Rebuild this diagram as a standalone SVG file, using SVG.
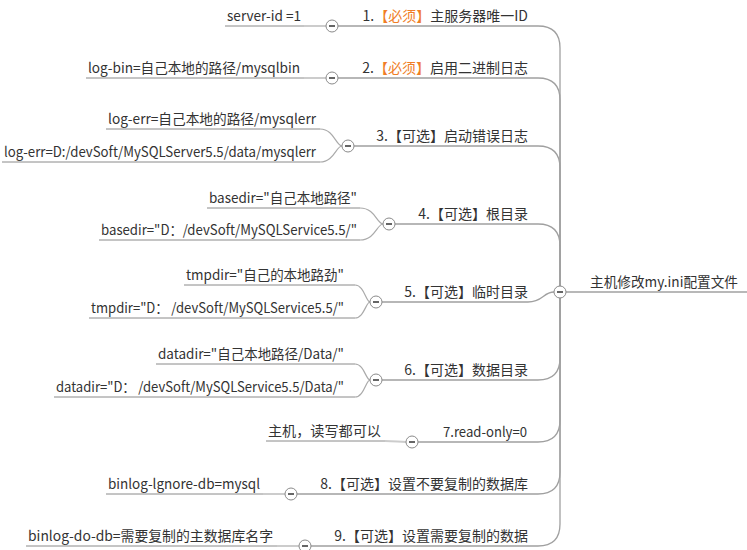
<svg xmlns="http://www.w3.org/2000/svg" width="747" height="550" viewBox="0 0 747 550">
<style>
text{font-family:"Noto Sans CJK SC","Noto Sans",sans-serif;font-size:14px;fill:#333}
.r{text-anchor:end}
.o{fill:#f07d26}
.br{fill:none;stroke:#a0a0a0;stroke-width:1.3}
.ul{fill:none;stroke:#8a8a8a;stroke-width:1}
.cn{fill:none;stroke:#cccccc;stroke-width:2}
.cv{fill:none;stroke:#aaaaaa;stroke-width:1.2}
.tg circle{fill:#fff;stroke:#8a8a8a;stroke-width:1}
.tg path{stroke:#333;stroke-width:1.5}
</style>
<rect width="747" height="550" fill="#fff"/>
<g id="connectors">
<path class="br" d="M560,292 V48 Q560,26 538,26 H338"/>
<path class="br" d="M560,292 V100 Q560,78 538,78 H338"/>
<path class="br" d="M560,292 V168 Q560,146 538,146 H354"/>
<path class="br" d="M560,292 V246 Q560,224 538,224 H395"/>
<path class="br" d="M554,292 C543,292 543,302 528,302 H382"/>
<path class="br" d="M560,292 V358 Q560,380 538,380 H382"/>
<path class="br" d="M560,292 V420 Q560,442 538,442 H418"/>
<path class="br" d="M560,292 V472 Q560,494 538,494 H297"/>
<path class="br" d="M560,292 V524 Q560,546 538,546 H311"/>
<path class="br" d="M566,292 H747"/>
<path class="cn" d="M304,26 H326"/>
<path class="cn" d="M304,78 H326"/>
<path class="cv" d="M320,129 C334,129 336,146 342,146"/>
<path class="cv" d="M320,162 C334,162 336,146 342,146"/>
<path class="cv" d="M360,208 C375,208 377,224 383,224"/>
<path class="cv" d="M360,240 C375,240 377,224 383,224"/>
<path class="cv" d="M355,285 C364,285 366,302 370,302"/>
<path class="cv" d="M355,318 C364,318 366,302 370,302"/>
<path class="cv" d="M355,364 C364,364 366,380 370,380"/>
<path class="cv" d="M355,397 C364,397 366,380 370,380"/>
<path class="cn" d="M385,441 C396,441 398,442 406,442"/>
<path class="cn" d="M263,494 H285"/>
<path class="cn" d="M277,546 H299"/>
</g>
<g id="root">
<text x="590" y="287" textLength="148" lengthAdjust="spacingAndGlyphs">主机修改my.ini配置文件</text>
<g class="tg"><circle cx="560" cy="292" r="6"/><path d="M557,292 H563"/></g>
</g>
<g id="b1">
<text class="r" x="528" y="21">1.<tspan class="o">【必须】</tspan>主服务器唯一ID</text>
<g class="tg"><circle cx="332" cy="26" r="6"/><path d="M329,26 H335"/></g>
</g>
<g id="b1c1"><text x="227" y="21" textLength="74" lengthAdjust="spacingAndGlyphs">server-id =1</text><path class="ul" d="M225,26 H304"/></g>
<g id="b2">
<text class="r" x="528" y="73">2.<tspan class="o">【必须】</tspan>启用二进制日志</text>
<g class="tg"><circle cx="332" cy="78" r="6"/><path d="M329,78 H335"/></g>
</g>
<g id="b2c1"><text x="88" y="73" textLength="212" lengthAdjust="spacingAndGlyphs">log-bin=自己本地的路径/mysqlbin</text><path class="ul" d="M86,78 H304"/></g>
<g id="b3">
<text class="r" x="528" y="141">3.【可选】启动错误日志</text>
<g class="tg"><circle cx="348" cy="146" r="6"/><path d="M345,146 H351"/></g>
</g>
<g id="b3c1"><text x="108" y="124" textLength="208" lengthAdjust="spacingAndGlyphs">log-err=自己本地的路径/mysqlerr</text><path class="ul" d="M106,129 H320"/></g>
<g id="b3c2"><text x="4" y="157" textLength="312" lengthAdjust="spacingAndGlyphs">log-err=D:/devSoft/MySQLServer5.5/data/mysqlerr</text><path class="ul" d="M2,162 H320"/></g>
<g id="b4">
<text class="r" x="528" y="219">4.【可选】根目录</text>
<g class="tg"><circle cx="389" cy="224" r="6"/><path d="M386,224 H392"/></g>
</g>
<g id="b4c1"><text x="209" y="203" textLength="148" lengthAdjust="spacingAndGlyphs">basedir="自己本地路径"</text><path class="ul" d="M207,208 H360"/></g>
<g id="b4c2"><text x="101" y="235" textLength="256" lengthAdjust="spacingAndGlyphs">basedir="D：/devSoft/MySQLService5.5/"</text><path class="ul" d="M99,240 H360"/></g>
<g id="b5">
<text class="r" x="528" y="297">5.【可选】临时目录</text>
<g class="tg"><circle cx="376" cy="302" r="6"/><path d="M373,302 H379"/></g>
</g>
<g id="b5c1"><text x="186" y="280" textLength="158" lengthAdjust="spacingAndGlyphs">tmpdir="自己的本地路劲"</text><path class="ul" d="M184,285 H355"/></g>
<g id="b5c2"><text x="91" y="313" textLength="253" lengthAdjust="spacingAndGlyphs">tmpdir="D： /devSoft/MySQLService5.5/"</text><path class="ul" d="M89,318 H355"/></g>
<g id="b6">
<text class="r" x="528" y="375">6.【可选】数据目录</text>
<g class="tg"><circle cx="376" cy="380" r="6"/><path d="M373,380 H379"/></g>
</g>
<g id="b6c1"><text x="158" y="359" textLength="186" lengthAdjust="spacingAndGlyphs">datadir="自己本地路径/Data/"</text><path class="ul" d="M156,364 H355"/></g>
<g id="b6c2"><text x="56" y="392" textLength="288" lengthAdjust="spacingAndGlyphs">datadir="D： /devSoft/MySQLService5.5/Data/"</text><path class="ul" d="M54,397 H355"/></g>
<g id="b7">
<text x="443" y="437" textLength="84" lengthAdjust="spacingAndGlyphs">7.read-only=0</text>
<g class="tg"><circle cx="412" cy="442" r="6"/><path d="M409,442 H415"/></g>
</g>
<g id="b7c1"><text x="268" y="436" textLength="113" lengthAdjust="spacingAndGlyphs">主机，读写都可以</text><path class="ul" d="M266,441 H385"/></g>
<g id="b8">
<text class="r" x="528" y="489">8.【可选】设置不要复制的数据库</text>
<g class="tg"><circle cx="291" cy="494" r="6"/><path d="M288,494 H294"/></g>
</g>
<g id="b8c1"><text x="108" y="489" textLength="152" lengthAdjust="spacingAndGlyphs">binlog-lgnore-db=mysql</text><path class="ul" d="M106,494 H263"/></g>
<g id="b9">
<text class="r" x="528" y="541">9.【可选】设置需要复制的数据</text>
<g class="tg"><circle cx="305" cy="546" r="6"/><path d="M302,546 H308"/></g>
</g>
<g id="b9c1"><text x="28" y="541" textLength="245" lengthAdjust="spacingAndGlyphs">binlog-do-db=需要复制的主数据库名字</text><path class="ul" d="M26,546 H277"/></g>
</svg>
